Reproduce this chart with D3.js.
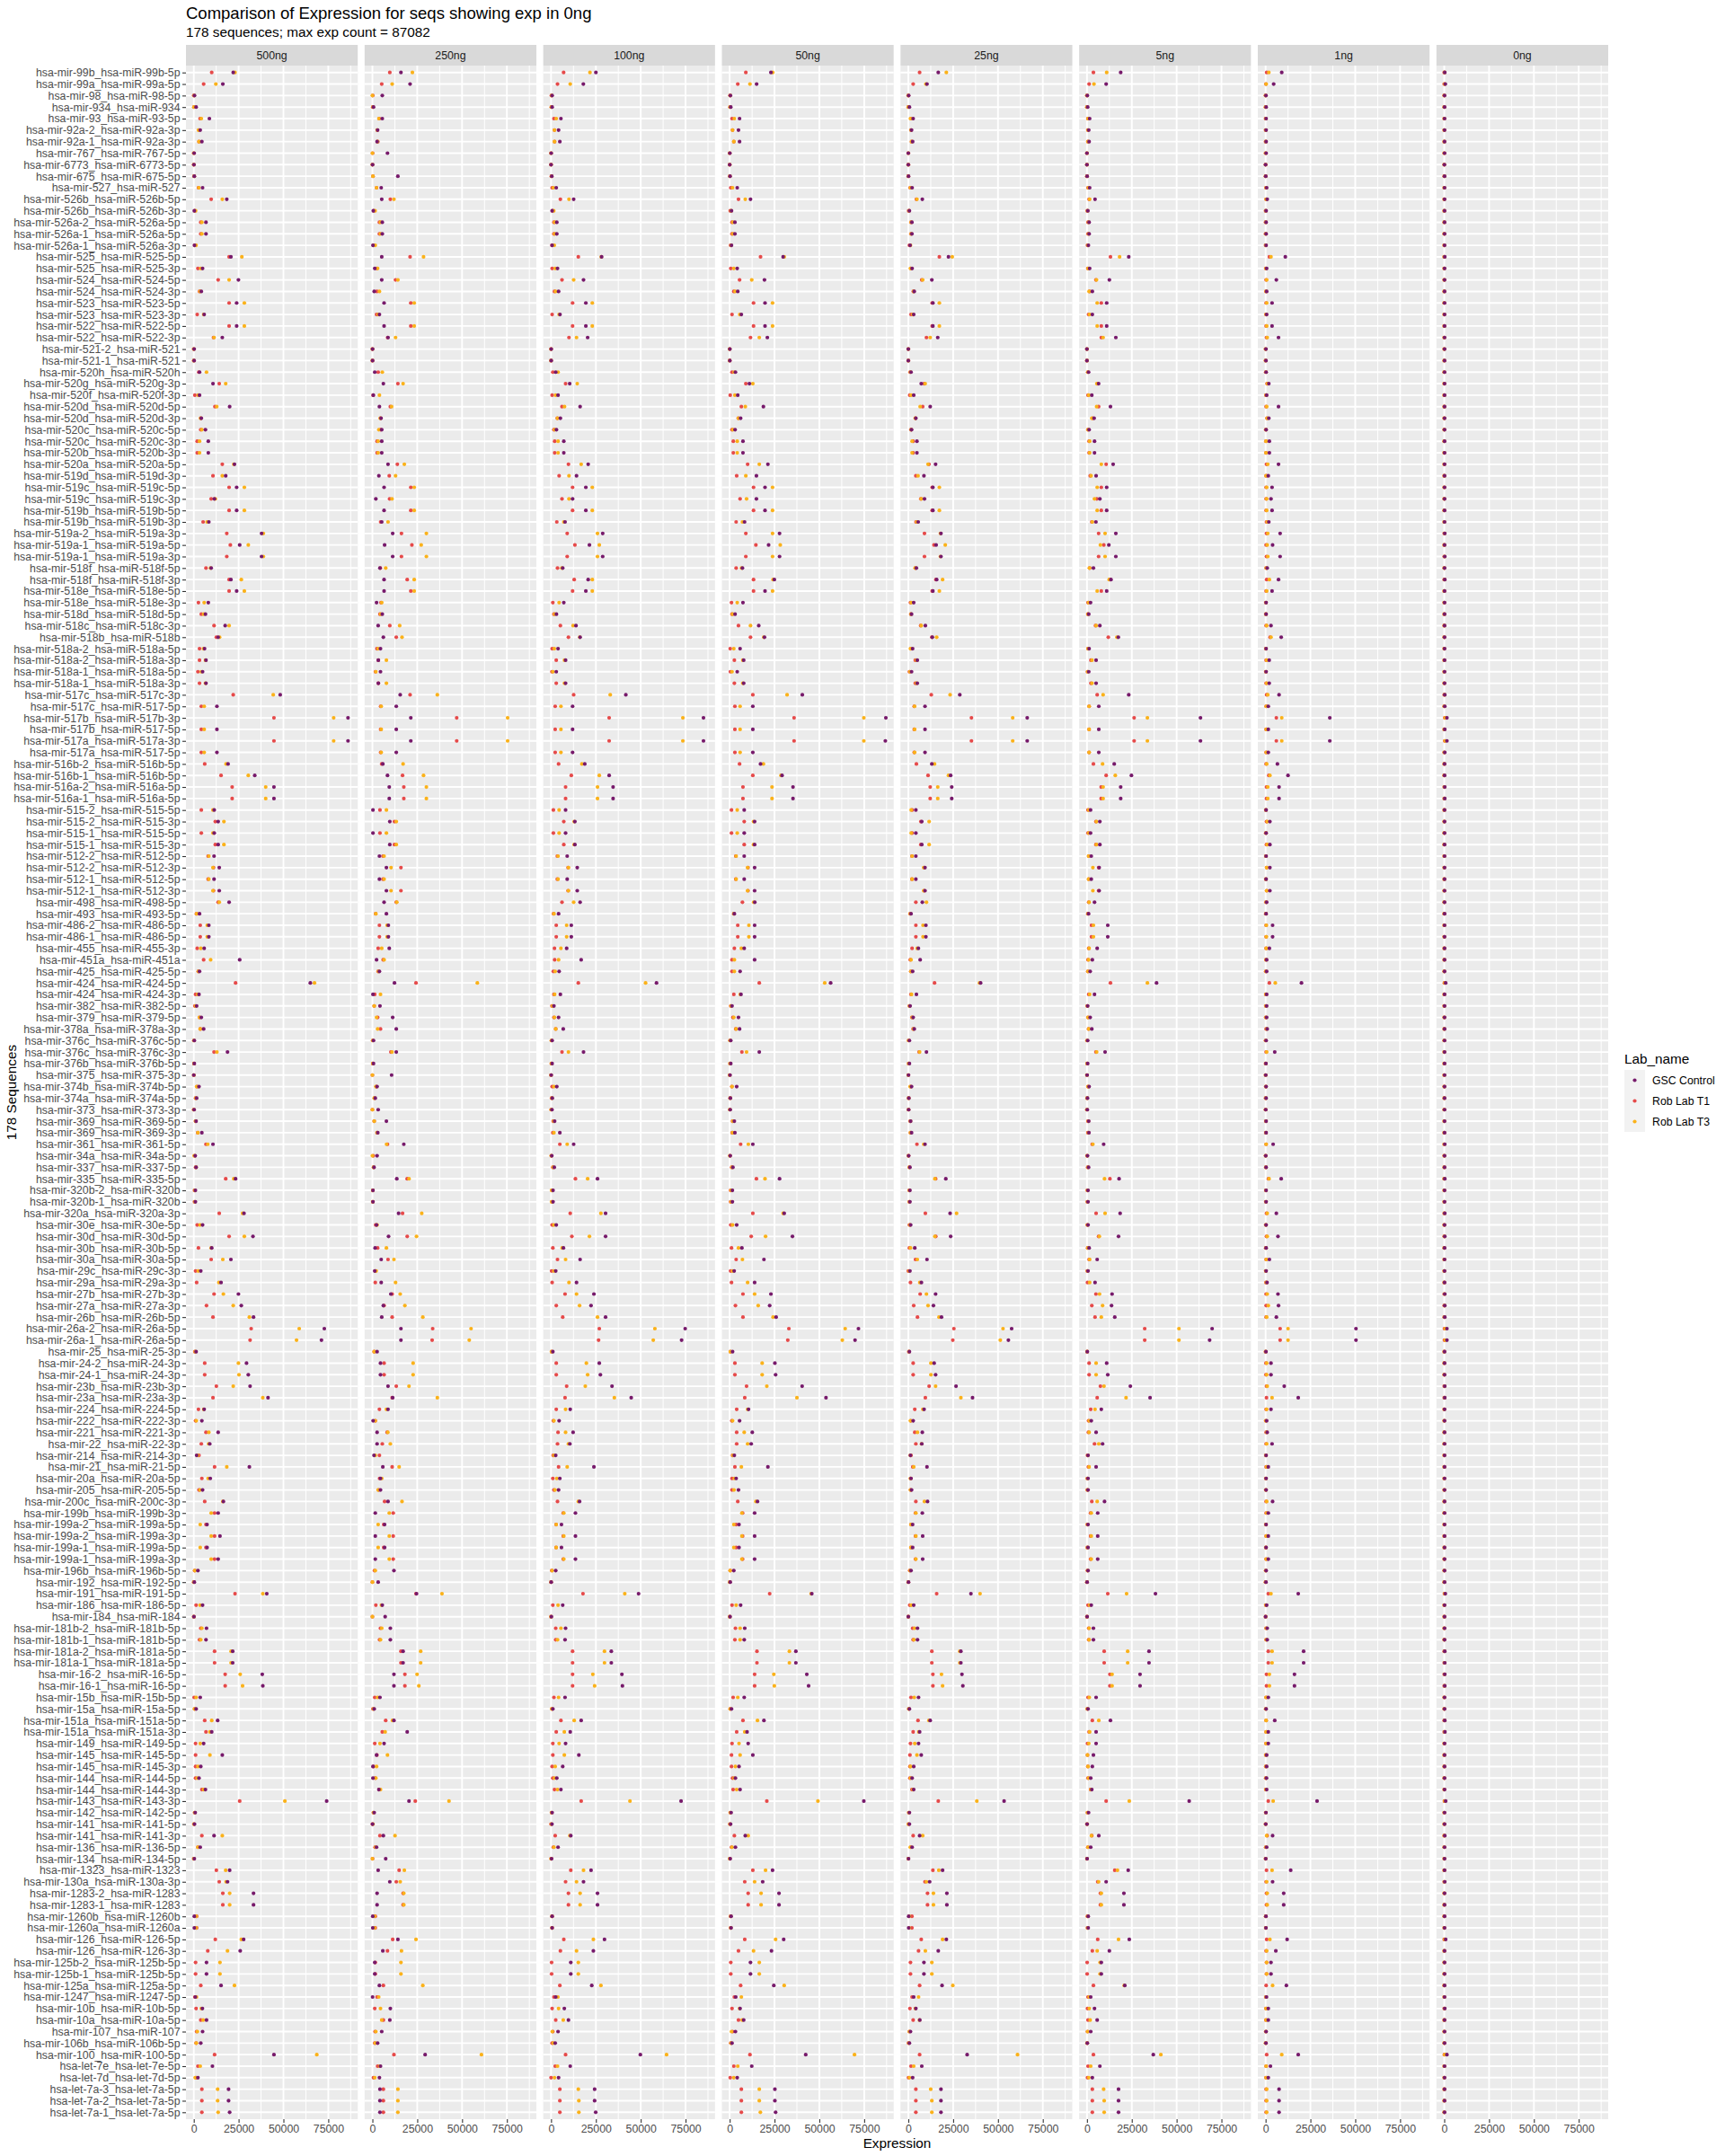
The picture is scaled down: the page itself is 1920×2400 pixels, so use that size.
<!DOCTYPE html>
<html><head><meta charset="utf-8">
<script src="https://cdn.jsdelivr.net/npm/d3@7"></script>
<style>body{margin:0;background:#fff} svg{display:block} text{font-family:"Liberation Sans",Arial,sans-serif}</style>
</head><body><svg id="chart" width="1920" height="2400"></svg>
<script>
const sequences = [
"hsa-mir-99b_hsa-miR-99b-5p","hsa-mir-99a_hsa-miR-99a-5p","hsa-mir-98_hsa-miR-98-5p","hsa-mir-934_hsa-miR-934","hsa-mir-93_hsa-miR-93-5p",
"hsa-mir-92a-2_hsa-miR-92a-3p","hsa-mir-92a-1_hsa-miR-92a-3p","hsa-mir-767_hsa-miR-767-5p","hsa-mir-6773_hsa-miR-6773-5p","hsa-mir-675_hsa-miR-675-5p",
"hsa-mir-527_hsa-miR-527","hsa-mir-526b_hsa-miR-526b-5p","hsa-mir-526b_hsa-miR-526b-3p","hsa-mir-526a-2_hsa-miR-526a-5p","hsa-mir-526a-1_hsa-miR-526a-5p",
"hsa-mir-526a-1_hsa-miR-526a-3p","hsa-mir-525_hsa-miR-525-5p","hsa-mir-525_hsa-miR-525-3p","hsa-mir-524_hsa-miR-524-5p","hsa-mir-524_hsa-miR-524-3p",
"hsa-mir-523_hsa-miR-523-5p","hsa-mir-523_hsa-miR-523-3p","hsa-mir-522_hsa-miR-522-5p","hsa-mir-522_hsa-miR-522-3p","hsa-mir-521-2_hsa-miR-521",
"hsa-mir-521-1_hsa-miR-521","hsa-mir-520h_hsa-miR-520h","hsa-mir-520g_hsa-miR-520g-3p","hsa-mir-520f_hsa-miR-520f-3p","hsa-mir-520d_hsa-miR-520d-5p",
"hsa-mir-520d_hsa-miR-520d-3p","hsa-mir-520c_hsa-miR-520c-5p","hsa-mir-520c_hsa-miR-520c-3p","hsa-mir-520b_hsa-miR-520b-3p","hsa-mir-520a_hsa-miR-520a-5p",
"hsa-mir-519d_hsa-miR-519d-3p","hsa-mir-519c_hsa-miR-519c-5p","hsa-mir-519c_hsa-miR-519c-3p","hsa-mir-519b_hsa-miR-519b-5p","hsa-mir-519b_hsa-miR-519b-3p",
"hsa-mir-519a-2_hsa-miR-519a-3p","hsa-mir-519a-1_hsa-miR-519a-5p","hsa-mir-519a-1_hsa-miR-519a-3p","hsa-mir-518f_hsa-miR-518f-5p","hsa-mir-518f_hsa-miR-518f-3p",
"hsa-mir-518e_hsa-miR-518e-5p","hsa-mir-518e_hsa-miR-518e-3p","hsa-mir-518d_hsa-miR-518d-5p","hsa-mir-518c_hsa-miR-518c-3p","hsa-mir-518b_hsa-miR-518b",
"hsa-mir-518a-2_hsa-miR-518a-5p","hsa-mir-518a-2_hsa-miR-518a-3p","hsa-mir-518a-1_hsa-miR-518a-5p","hsa-mir-518a-1_hsa-miR-518a-3p","hsa-mir-517c_hsa-miR-517c-3p",
"hsa-mir-517c_hsa-miR-517-5p","hsa-mir-517b_hsa-miR-517b-3p","hsa-mir-517b_hsa-miR-517-5p","hsa-mir-517a_hsa-miR-517a-3p","hsa-mir-517a_hsa-miR-517-5p",
"hsa-mir-516b-2_hsa-miR-516b-5p","hsa-mir-516b-1_hsa-miR-516b-5p","hsa-mir-516a-2_hsa-miR-516a-5p","hsa-mir-516a-1_hsa-miR-516a-5p","hsa-mir-515-2_hsa-miR-515-5p",
"hsa-mir-515-2_hsa-miR-515-3p","hsa-mir-515-1_hsa-miR-515-5p","hsa-mir-515-1_hsa-miR-515-3p","hsa-mir-512-2_hsa-miR-512-5p","hsa-mir-512-2_hsa-miR-512-3p",
"hsa-mir-512-1_hsa-miR-512-5p","hsa-mir-512-1_hsa-miR-512-3p","hsa-mir-498_hsa-miR-498-5p","hsa-mir-493_hsa-miR-493-5p","hsa-mir-486-2_hsa-miR-486-5p",
"hsa-mir-486-1_hsa-miR-486-5p","hsa-mir-455_hsa-miR-455-3p","hsa-mir-451a_hsa-miR-451a","hsa-mir-425_hsa-miR-425-5p","hsa-mir-424_hsa-miR-424-5p",
"hsa-mir-424_hsa-miR-424-3p","hsa-mir-382_hsa-miR-382-5p","hsa-mir-379_hsa-miR-379-5p","hsa-mir-378a_hsa-miR-378a-3p","hsa-mir-376c_hsa-miR-376c-5p",
"hsa-mir-376c_hsa-miR-376c-3p","hsa-mir-376b_hsa-miR-376b-5p","hsa-mir-375_hsa-miR-375-3p","hsa-mir-374b_hsa-miR-374b-5p","hsa-mir-374a_hsa-miR-374a-5p",
"hsa-mir-373_hsa-miR-373-3p","hsa-mir-369_hsa-miR-369-5p","hsa-mir-369_hsa-miR-369-3p","hsa-mir-361_hsa-miR-361-5p","hsa-mir-34a_hsa-miR-34a-5p",
"hsa-mir-337_hsa-miR-337-5p","hsa-mir-335_hsa-miR-335-5p","hsa-mir-320b-2_hsa-miR-320b","hsa-mir-320b-1_hsa-miR-320b","hsa-mir-320a_hsa-miR-320a-3p",
"hsa-mir-30e_hsa-miR-30e-5p","hsa-mir-30d_hsa-miR-30d-5p","hsa-mir-30b_hsa-miR-30b-5p","hsa-mir-30a_hsa-miR-30a-5p","hsa-mir-29c_hsa-miR-29c-3p",
"hsa-mir-29a_hsa-miR-29a-3p","hsa-mir-27b_hsa-miR-27b-3p","hsa-mir-27a_hsa-miR-27a-3p","hsa-mir-26b_hsa-miR-26b-5p","hsa-mir-26a-2_hsa-miR-26a-5p",
"hsa-mir-26a-1_hsa-miR-26a-5p","hsa-mir-25_hsa-miR-25-3p","hsa-mir-24-2_hsa-miR-24-3p","hsa-mir-24-1_hsa-miR-24-3p","hsa-mir-23b_hsa-miR-23b-3p",
"hsa-mir-23a_hsa-miR-23a-3p","hsa-mir-224_hsa-miR-224-5p","hsa-mir-222_hsa-miR-222-3p","hsa-mir-221_hsa-miR-221-3p","hsa-mir-22_hsa-miR-22-3p",
"hsa-mir-214_hsa-miR-214-3p","hsa-mir-21_hsa-miR-21-5p","hsa-mir-20a_hsa-miR-20a-5p","hsa-mir-205_hsa-miR-205-5p","hsa-mir-200c_hsa-miR-200c-3p",
"hsa-mir-199b_hsa-miR-199b-3p","hsa-mir-199a-2_hsa-miR-199a-5p","hsa-mir-199a-2_hsa-miR-199a-3p","hsa-mir-199a-1_hsa-miR-199a-5p","hsa-mir-199a-1_hsa-miR-199a-3p",
"hsa-mir-196b_hsa-miR-196b-5p","hsa-mir-192_hsa-miR-192-5p","hsa-mir-191_hsa-miR-191-5p","hsa-mir-186_hsa-miR-186-5p","hsa-mir-184_hsa-miR-184",
"hsa-mir-181b-2_hsa-miR-181b-5p","hsa-mir-181b-1_hsa-miR-181b-5p","hsa-mir-181a-2_hsa-miR-181a-5p","hsa-mir-181a-1_hsa-miR-181a-5p","hsa-mir-16-2_hsa-miR-16-5p",
"hsa-mir-16-1_hsa-miR-16-5p","hsa-mir-15b_hsa-miR-15b-5p","hsa-mir-15a_hsa-miR-15a-5p","hsa-mir-151a_hsa-miR-151a-5p","hsa-mir-151a_hsa-miR-151a-3p",
"hsa-mir-149_hsa-miR-149-5p","hsa-mir-145_hsa-miR-145-5p","hsa-mir-145_hsa-miR-145-3p","hsa-mir-144_hsa-miR-144-5p","hsa-mir-144_hsa-miR-144-3p",
"hsa-mir-143_hsa-miR-143-3p","hsa-mir-142_hsa-miR-142-5p","hsa-mir-141_hsa-miR-141-5p","hsa-mir-141_hsa-miR-141-3p","hsa-mir-136_hsa-miR-136-5p",
"hsa-mir-134_hsa-miR-134-5p","hsa-mir-1323_hsa-miR-1323","hsa-mir-130a_hsa-miR-130a-3p","hsa-mir-1283-2_hsa-miR-1283","hsa-mir-1283-1_hsa-miR-1283",
"hsa-mir-1260b_hsa-miR-1260b","hsa-mir-1260a_hsa-miR-1260a","hsa-mir-126_hsa-miR-126-5p","hsa-mir-126_hsa-miR-126-3p","hsa-mir-125b-2_hsa-miR-125b-5p",
"hsa-mir-125b-1_hsa-miR-125b-5p","hsa-mir-125a_hsa-miR-125a-5p","hsa-mir-1247_hsa-miR-1247-5p","hsa-mir-10b_hsa-miR-10b-5p","hsa-mir-10a_hsa-miR-10a-5p",
"hsa-mir-107_hsa-miR-107","hsa-mir-106b_hsa-miR-106b-5p","hsa-mir-100_hsa-miR-100-5p","hsa-let-7e_hsa-let-7e-5p","hsa-let-7d_hsa-let-7d-5p",
"hsa-let-7a-3_hsa-let-7a-5p","hsa-let-7a-2_hsa-let-7a-5p","hsa-let-7a-1_hsa-let-7a-5p"
];
const panels = ["500ng","250ng","100ng","50ng","25ng","5ng","1ng","0ng"];
const labs = ["GSC Control","Rob Lab T1","Rob Lab T3"];
const xTicks = [0,25000,50000,75000];
const xMinorTicks = [12500,37500,62500,87500];
const maxExp = 87082;
const UNIT = 1000; // values below are in thousands of counts

// ---------- 500ng ----------
const gsc_500ng = [22,16.2,0.4,1.3,8.7,3.6,4.5,0.2,0.1,0.3,
4.9,18.4,0.3,6.8,6.8,0.4,20.7,4.9,24.9,4.2,
23.9,5.8,23.9,15.9,0.2,0.2,3.2,10.7,3.2,20,
4.2,6.5,8.1,8.1,22.7,17.8,23.9,11.5,23.9,8.4,
37.8,25.6,37.8,9.7,20.7,23.9,8.1,6.5,17.5,13.6,
6,6.8,4.9,6.8,48.2,12.9,86,12.9,86,12.9,
19.1,34,44.7,44.7,11.4,13.6,11.4,13.6,11.3,14.2,
11.3,14.2,19.7,3.2,8.4,8.4,5.8,25.6,3.2,65,
2.9,1.6,4.2,5.5,0.3,18.8,0.3,0,2.9,1.6,
0.2,1.3,4.5,10.7,0.8,1.3,23.3,0.9,0.9,28,
4.9,33,10,20.7,3.9,15.2,24.9,26.5,33.3,72.8,
71.2,1.3,29.4,30.4,31.4,41.4,5.8,4.5,13.6,8.9,
1.6,31,9.2,4.9,16.5,13.6,7.4,14.6,7.4,13.6,
2.3,0.3,40.7,4.9,0.1,7.1,6.8,21.7,21.7,38.2,
38.5,3.6,1.3,13.3,10,5.5,15.9,3.9,2.9,6.5,
74.1,0.8,0.4,11.3,3.6,0.3,20,18.8,33.3,33.3,
0.3,0.3,27.8,25.9,7.1,7.1,15.2,0.9,4.8,7.1,
4.9,3.9,44.7,10.4,2.3,19.4,19.4,20];
const t1_500ng = [10,5.5,0,0.1,3.5,2.9,2.9,0,0,0.2,
2.6,9.7,0.6,3.9,3.9,0.5,19.7,2.3,13.6,3.2,
19.7,1.9,19.7,11,0,0,2.8,14.2,0.6,11.8,
3.9,3.9,1.9,1.9,15.9,10.7,19.7,9.7,19.7,5.2,
18.4,20.4,18.4,6.8,19.7,19.7,2.6,4.2,11.3,12.6,
3.2,3.2,2.3,3.2,22,4.2,44.7,4.2,44.7,4.2,
6.1,15.2,21.4,21.4,4.2,12,4.2,12,8,11,
8,11,13.6,1.5,3.6,3.6,1.9,5.5,2.5,23.3,
1,0.6,3.2,3.6,0.1,11.3,0.1,0,1.9,1,
0,1,2.2,6.8,0.6,1,17.8,0.4,0.4,14.2,
1.9,19.7,2.6,9.7,1,1.6,11.3,7.1,10.7,32,
31.4,0.6,6.1,6.1,12.6,10.7,2.6,1,6.8,4.2,
2.9,11.6,4.5,2.9,6.1,11.6,6.8,11.6,6.8,11.6,
0.5,0,23,1.3,0,3.9,3.2,11.6,11.6,17.5,
17.5,0.2,0.5,6.1,6.8,1,1,1,1,4.5,
25.6,0.5,0.1,4.5,2.3,0,12.6,14.2,16.2,16.2,
1.6,1.6,12,7.8,1,1,3.9,0.6,1.3,3.9,
1.6,1.3,11.6,2.3,1.3,4.5,4.5,4.5];
const t3_500ng = [23,12.3,0.2,0.1,4.2,2.6,2.9,0,0,0.2,
2.8,15.9,1,4.5,4.5,1.3,26.8,3.9,19.7,3.5,
28.2,5.5,28.2,11.3,0,0,7.1,17.8,2.5,12.8,
3.8,4.5,3.2,3.2,22.3,15.9,28.2,12,28.2,7.4,
38.8,30.4,38.8,9.3,26.5,28.2,5.8,5.5,19.7,14.4,
5.4,6.5,4.2,6.5,44.3,5.8,78,5.8,78,5.8,
18,30.4,40.1,40.1,10.7,16.8,10.7,16.8,8.4,10.7,
8.4,10.7,14.2,1.6,7.5,7.5,3.9,9.4,2.6,67.3,
2.2,1,3.2,3.6,0.1,12.9,0.1,0,1.6,1.2,
0,1,2.3,7.8,0.2,1.3,22.3,0.6,0.6,27.2,
3.5,28.2,9.7,16.2,2.5,14,16.5,22,31,58.8,
57.3,0.8,24.9,25.2,22,38.5,5.5,1.4,8.4,8.3,
2.2,18.4,8,3.5,16.2,9.7,3.6,9.7,3.6,9.7,
0.6,0,38.5,3.5,0,4.5,3.9,20.8,20.8,25.9,
27.2,1.3,0.4,10,9,3.6,9,2.3,1.9,5.5,
50.8,0.5,0.1,15.9,2.3,0,17.8,18,20,20,
1.3,1.3,26.5,18.8,14.6,14.6,22.7,1.5,4.2,5.2,
2,1.4,68.6,3.6,0.8,13.3,13.3,13.6];

// ---------- 250ng ----------
const gsc_250ng = [15.9,21,5.5,0.6,5.5,2.9,2.6,8.4,0.1,14.2,
4.9,5.2,0.5,5.5,5.5,0.3,5.2,1.3,5.2,1,
6.5,3.9,6.5,8.7,0.1,0.1,1.3,6.1,0.5,3.9,
4.8,5.2,5.2,5.2,8.7,3.6,6.5,1.9,6.5,5.2,
11.3,6.8,11.3,4.2,6.5,6.5,2.3,5.5,3.2,6.1,
4.5,3.3,4.5,3.3,15.5,13.3,21.4,13.3,21.4,13.3,
5.8,8.4,9.4,9.4,0.3,9.7,0.3,9.7,3.9,7.8,
3.9,7.8,6.5,7.8,8.9,8.9,9.4,2.3,3.9,12.3,
0.3,4.2,11.3,13.3,0.6,13.3,0.6,10.7,2.6,1.6,
3.2,7.8,3,17.5,2.6,0.9,13.6,0.3,0.3,14.6,
2.3,9,1.5,4.9,1.3,4.9,10.3,6.1,5.2,15.9,
15.9,2.6,4.5,4.5,8.7,11.3,8.7,0.4,2.6,2.6,
0.9,5.8,4.5,4.5,8.7,1.6,6.8,1.6,6.8,1.6,
12,3.2,24.6,5.5,7.1,10,10,17.1,17.1,12,
12,4.2,1,12,19.4,6.5,2.3,0.3,0.3,3.6,
20.4,1,0.1,6.1,2.3,7.4,3.2,9.7,2.6,2.6,
0.2,0.2,14.2,5.8,1.3,1.3,3.9,0.1,10,9.7,
5.2,2.9,29.4,4.5,3.9,4.2,4.2,4.2];
const t1_250ng = [9.7,5.2,0.2,0.2,3.8,2.7,3,0.1,0,0.3,
2.3,10,0.8,3.9,3.9,0.6,21,2.4,12.9,2.5,
21.4,2.3,21.4,8.5,0,0,3.2,14.2,0.4,10,
4.5,4.6,2.6,2.6,13.9,9.4,21.4,9.6,21.4,4.6,
16.2,22,16.2,4.4,19.4,21.4,4.8,4.2,9.7,13.3,
2.5,3.3,1.7,3.3,21,4.6,47,4.6,47,4.6,
5.2,16.8,17.5,17.5,4.2,12.3,4.2,12.3,5.9,15.9,
5.9,15.9,13.3,1.8,3.9,3.9,3.2,6,3.2,24.3,
1.3,1,2.9,4.5,0.2,10.3,0.2,0,2.2,1.2,
0,1,2.6,8.4,0.5,0.7,19.4,0.2,0.2,16.8,
1.8,19.4,2.9,8.7,1.6,1.6,11,6.5,11,33.6,
33.3,1,6.5,6.5,13.3,11,3.9,1.6,8.2,5.5,
3.9,11,4,3.5,6.8,11.6,6.3,11.6,6.3,11.6,
1.2,0,24.3,1.9,0,4.5,4,15.9,15.9,18.1,
18.1,1.3,0.3,7.4,5.5,1.3,2.5,0.6,1.5,3.7,
23.9,0.6,0,4.2,1.5,0.1,14.9,13.3,17.1,17.1,
1.6,1.6,11.3,8.4,1.6,1.6,6.1,2.6,1.3,6.1,
1.5,1.3,12,2.9,0.6,6.1,6.1,6.1];
const t3_250ng = [22.3,11,0,0.3,3.6,2.7,2.8,0,0,0.3,
2.3,12,1.5,4.5,4.5,1.6,28.5,2.9,14.2,3.9,
23.3,3.2,23.3,12.9,0,0,5.5,17.1,3.9,10.7,
4.4,3.6,3.2,3.2,17.8,12.9,23.3,10.9,23.3,8.7,
30.1,27.2,30.1,7.4,23.3,23.3,5.2,4.6,15.2,16.5,
3.2,7.8,1.9,7.8,36.2,4.9,75.4,4.9,75.4,4.9,
17.1,28.5,30.1,30.1,7.8,13.3,7.8,13.3,6.5,10.4,
6.5,10.4,13.6,1.9,8.2,8.2,5.2,6.5,3.4,58.5,
4.5,1,2.3,2.9,0.2,10.9,0.2,0,1.9,1,
0,1,2.6,7.9,0,0.6,20.4,0.2,0.2,27.5,
2.6,24.6,7.8,12,2.1,12.9,15.5,18.1,28.1,55,
54,1,22.7,22.7,20.4,36.2,7.8,1.6,8.6,10,
1.6,14.9,5.2,3.2,16.5,9.4,3.2,9.4,3.2,9.4,
1.6,0,38.8,5,0,5.2,4.5,26.9,26.9,24.9,
25.9,2.9,0.6,11.2,7.1,4.2,8.4,2.3,1.9,4.5,
42.7,0.6,0.3,12.6,1.8,0,17.8,15.5,17.5,17.5,
1.2,1.2,24.3,16.2,15.9,15.9,28.1,3.5,4.5,5.2,
1.9,1.6,60.8,4.1,1.3,14.2,14.2,14.2];

// ---------- 100ng ----------
const gsc_100ng = [25,18,0.6,0.6,5.5,4.2,4.9,0.1,0,0.4,
2.9,12.6,0.6,3.2,3.2,0.6,28.2,3.6,18.1,4.2,
19.4,5,19.4,20.4,0.1,0.1,2.6,10.4,3.9,16.2,
5.2,3,7.1,7.1,20.7,14.2,19.4,12,19.4,7.8,
28.8,21.4,28.8,6.5,20.7,19.4,7.1,3,13.9,16.2,
3.9,8.1,2.9,8.1,41.7,12,85,12,85,12,
18.8,32.4,34.6,34.6,8.1,13.3,8.1,13.3,9,14.6,
9,14.6,16.2,4.2,11.3,11.3,8.7,16.8,4.5,58.8,
5.2,1.6,4.2,6.8,0.6,18.1,0.6,0.1,3.2,0.7,
0.5,2,4.9,12.6,0.4,1.8,25.9,1.1,1.1,30.4,
2.9,30.4,6.9,16.2,2.6,14.2,23.9,22.3,30.4,74.8,
72.8,1,26.9,27.5,34,44.7,10.7,4.5,12.3,10.5,
2.6,23.9,4.9,4.2,15.9,13.6,5.8,13.6,5.8,13.6,
2.6,0.1,48.8,6.5,0.2,8.1,7.8,33.6,33.6,39.5,
39.8,7.8,1,16.8,10.7,8.1,15.5,6.5,3.2,5.5,
72.5,0.6,0.5,11,3.9,0.3,22.3,18.1,25.9,25.9,
0.6,0.6,29.8,23.6,11,11,22.7,2.6,7.4,9.7,
3.9,2.3,49.8,10.7,4.2,24.3,24.3,24.9];
const t1_100ng = [7,3.6,0.2,0.2,1.6,1.9,2,0,0,0.2,
0.6,5.2,0.8,1.6,1.6,0.5,15.2,0.6,6.1,1.9,
12,0.6,12,10,0,0,1,8.1,0.6,6.1,
3.5,1.6,2,2,9.7,4.5,12,6.1,12,3.2,
9,13.3,9,3.6,12.9,12,1,1.6,5.2,9.7,
0.6,2.9,0.5,2.9,12.6,2.3,32.4,2.3,32.4,2.3,
4.2,11.3,8.1,8.1,1.3,7.1,1.3,7.1,3.5,9.5,
3.5,9.5,6.1,1.4,2.9,2.9,1.9,2,1.3,15.2,
1.6,0.5,1.6,2.6,0.3,6.1,0.2,0,0.6,0.3,
0.1,1.2,1,4.9,0.2,1,13.6,0.5,0.5,10.7,
0.6,11.6,1,3.6,0.3,0.6,7.8,2.9,6.5,26.9,
26.5,0.3,2.9,2.9,8.7,7.8,2.9,1.3,3.9,3.6,
1.2,4.2,1,1.6,3.6,6.8,2.8,6.8,2.8,6.8,
0.4,0,17.8,1,0,2.6,2.6,12,12,12,
12,1.6,0.5,5.5,2.9,1,1,0.6,1,1.9,
16.8,0.3,0,2.3,1.3,0.1,11,8.1,9.7,9.7,
0.6,0.6,7.1,5.2,0.3,0.3,4.9,1.6,0.6,2.6,
1,0.6,8.1,2.3,0,4.9,4.9,4.9];
const t3_100ng = [21.7,10.7,0.4,0.2,2.9,1.9,1.9,0,0,0.3,
1.3,10,1.5,2,2,1.8,28,2.3,12.6,2.5,
23,4.5,23,14.2,0,0,3.9,14.6,2.5,7.5,
3.6,2,3.9,3.9,16.8,10,23,10,23,7.1,
25.9,26.9,25.9,6,23,23,4.5,2,12.3,16,
1.8,7.5,1,7.5,33,5.5,73.5,5.5,73.5,5.5,
17.2,26.9,25.9,25.9,4.5,12.9,4.5,12.9,3.9,9.7,
3.9,9.7,12.6,1.6,8.7,8.7,5.5,4.2,2.3,52.7,
2,0.8,1.9,2.6,0.2,9.7,0.2,0,1.6,0.5,
0.1,1.5,1.6,9,0.1,1.2,20.4,0.3,0.3,27.8,
1.6,21.4,6.2,8.1,1.6,10,14.2,15.9,25.9,57.9,
57,0.3,19.7,20.4,19.1,35.3,8.1,1.6,8.1,9.7,
1.6,9,3.2,2.2,15.2,7.1,2.9,7.1,2.9,7.1,
0.6,0,41.1,3.9,0,5.5,3.6,29.8,29.8,23.3,
24.3,4.2,0.4,12.9,7.4,4.5,7.4,2.3,1.9,3.6,
44,0.3,0.2,10.5,1.6,0,18.1,14.2,16.2,16.2,
0.5,0.5,23.6,14.2,15.2,15.2,27.8,3.8,4.2,6.8,
0.7,1.2,64.4,3.6,1.9,15.2,15.5,15.5];

// ---------- 50ng ----------
const gsc_50ng = [23,15,0.4,0.6,5.5,4.9,5.5,0.1,0,0.2,
4.2,11.6,1,2.9,2.9,1,29.8,4.2,19.4,4.5,
19.7,6.5,19.7,21,0.1,0.1,3.2,11,4.5,18.8,
6.1,3,7.4,7.4,21.3,14.9,19.7,14.9,19.7,8.3,
27.8,21.7,27.8,7.1,24.9,19.7,7.4,3,16.2,19.4,
5.8,7.8,4.2,7.8,40.5,12.9,87.082,12.9,86.8,12.9,
17.2,29.2,35.3,35.3,8.1,13.9,8.1,13.9,8.1,13.9,
8.1,13.9,14,2.6,13.9,13.9,8.1,13.9,5.8,56.3,
6.3,1.3,4.9,5.5,0.6,16.5,0.6,0.2,3.9,0.4,
0.3,2.6,2.9,12.9,0.3,1.8,27.8,1.5,1.5,30.4,
3.9,35,6.8,19.1,2.5,13.9,23,22.3,25.9,71.8,
69.9,1.6,25.2,25.6,40.4,53.7,10.5,5.5,12.6,12,
2.6,21.3,3.6,4.9,15.5,13.9,5.2,13.9,5.2,13.9,
2.3,0.3,45.8,6.1,0.2,8.4,8.1,36.9,36.9,43,
44,8.1,1,19.1,9.7,10.3,12.9,5.2,3.2,5.8,
74.8,0.8,0.5,8.7,3.2,0.3,23.9,18.4,27.5,27.5,
0.8,0.8,30.1,23.3,11.6,11.6,24.6,3.4,5.8,7.8,
3.2,1.3,42.4,12.3,4.2,25.2,25.2,25.6];
const t1_50ng = [9,4.5,0.2,0.2,1.3,1.6,2.3,0,0,0.1,
0.6,4.9,0.3,1.3,1.3,0.5,17.2,0.6,5.5,2.3,
13.3,1.3,13.3,11.6,0,0,1.3,9,0.3,6.5,
4.8,1.3,2,2,10,3.9,13.3,5.8,13.3,3.6,
9,14.6,9,3.6,13.3,13.3,1,1.3,4.9,11.6,
0.3,2.6,0.4,2.6,12.9,2.9,35.9,2.9,35.9,2.9,
5.5,12.9,7.4,7.4,1,8.1,1,8.1,3.4,10.2,
3.4,10.2,7.1,2.3,4.5,4.5,2.6,1.3,1.3,16.5,
2.3,0.6,1.8,3.4,0.2,6.8,0.2,0,1.2,0.2,
0.1,1.6,1.4,6.1,0.2,1.1,14.9,0.5,0.5,12.9,
0.6,12,1,3.6,0.5,1,7.4,3.2,7.4,33,
32.4,0.4,2.9,2.9,9.4,8.4,3.9,1.2,3.9,3.9,
1.6,2.9,1.3,1.3,4.5,7.2,3.6,7.2,3.6,7.2,
0.3,0.1,22.3,1.3,0.1,3.2,2.9,15.2,15.2,13.9,
13.9,1.9,0.3,7.4,3.9,1.3,1,1,1.6,1.9,
20.7,0.3,0.1,2.6,1,0.1,12.9,8.4,10.3,10.3,
0.5,0.5,8.4,4.9,0.6,0.6,6.1,2.6,1.3,4.9,
1.6,0.6,11.3,2.3,0.3,6.5,6.5,6.5];
const t3_50ng = [24,11.3,0.3,0.2,2.6,1.6,2.3,0,0,0.1,
1.6,8.7,0.8,1.8,1.8,0.8,30.4,2.3,12.3,3,
23.9,5.6,23.9,16.5,0,0,2.5,12.9,2.9,8.7,
4.9,1.8,4.2,4.2,16.5,9,23.9,9.4,23.9,7.1,
23.9,28.2,23.9,6.6,24.2,23.9,4.2,1.6,11.6,19,
2.3,7.3,1.3,7.3,32,5.8,74.8,5.8,74.8,5.8,
18.8,28.6,23.6,23.6,4.2,13.3,4.2,13.3,3.6,10,
3.6,10,13.4,2.3,10.7,10.7,6.5,2.6,2.6,53,
5.9,0.8,2.3,3.6,0.2,9.4,0.2,0,1.3,0.3,
0.1,1.7,1.6,10.4,0.1,1.3,19.7,0.8,0.8,29.8,
1.6,20,4.9,7.1,1.6,10,13.9,15.9,24.2,64.4,
62.8,0.4,18.1,18.1,20.7,37.5,10,1.6,8.1,10,
1.8,6.5,2.6,2.4,14.6,6.8,2.3,6.8,2.3,6.8,
0.3,0,45.4,3.6,0,5.8,5.8,33.3,33.3,24.6,
24.9,4.5,0.3,15.5,8.4,5.2,5.8,3.2,2.5,3.9,
49.2,0.4,0.2,10.3,1.3,0,20,13.9,17.5,17.5,
0.6,0.6,25.6,13.3,16.5,16.5,30.4,6.5,5.5,7,
1,0.8,69.6,4.5,2.3,16.5,16.5,17.1];

// ---------- 25ng ----------
const gsc_25ng = [16.7,10.4,0.2,0.6,2.7,1.8,2.4,0,0,0.1,
2.1,7.8,0.6,2,2,1,22.4,2.1,13.1,3.3,
13.7,3,13.7,16.4,0,0,1.5,7.2,3,12.2,
4.2,1.8,4.8,4.8,15.2,8.7,13.7,9,13.7,5.5,
18.2,15.5,18.2,4.5,15.8,13.7,3,1.8,9.5,13.4,
2.4,5,1.8,5,28.7,9.3,66.3,9.3,66.3,9.3,
13.1,23.6,24.2,24.2,4.2,7.5,4.2,7.5,4.2,9.3,
4.2,9.3,7.8,1.5,9.8,9.8,5.6,6.6,2.4,40.3,
4.5,1,2.7,3.3,0.6,10.1,0.6,0.1,1.8,0.3,
0.2,1.3,1.8,9.3,0.2,0.9,20.9,0.9,0.9,23.3,
1.3,23.6,3.6,10.4,0.9,7.3,15.2,14,18.5,57.6,
55.8,0.6,14.4,15.2,26.6,35.8,8.8,2.7,7.8,7.5,
1.2,10.4,1.5,1.8,10.7,7.8,2.4,8,2.4,8,
1.5,0.1,34.9,3,0,5.1,5.1,29.3,29.3,29.9,
30.4,5.7,0.6,12.2,6.3,5.7,7.2,3,2.1,3,
53.4,0.6,0.6,6.3,2.1,0.1,19.1,11.9,21.5,21.5,
0.2,0.2,21.2,16.7,8.7,8.7,18.8,3,4.2,6.4,
1.2,0.6,32.8,7.5,2.4,18.2,18.2,18.2];
const t1_25ng = [6.3,2.7,0,0,1.5,1.5,1.8,0,0,0,
1,4.5,0.2,1.5,1.5,0.6,17.3,1.4,7.5,2.8,
13.3,1.5,13.3,10.1,0,0,1,8.8,0.8,8,
4,1.5,2.7,2.7,11.5,4.2,13.3,7,13.3,4.3,
9,14.3,9,4,15.4,13.3,1.2,1.4,6.9,13.1,
1.5,3.9,0.6,3.9,12.8,3.3,35.2,3.3,35.2,3.3,
4.5,11,12.2,12.2,2.1,7,2.1,7,2,8.8,
2,8.8,4.2,1,4.2,4.2,2.1,1.1,1.4,14.6,
1.5,0.6,2,2.7,0.2,6,0.2,0,1.3,0.2,
0.1,1,1.2,4.8,0.1,0.6,15.2,0.5,0.5,9.5,
0.6,15.3,0.6,4,0,1.2,6.6,3,5.1,25.4,
24.8,0.3,2.7,2.7,11.6,9.5,3.6,1.4,3.6,4.2,
1.5,2.5,1.3,1.3,4.2,4,1.5,4,1.5,4,
0.8,0,15.8,0.8,0,2.4,2.7,13.1,13.1,13.7,
13.7,1.5,0.3,5.4,2.7,1.2,0.9,0.9,0.9,2,
16.7,0.3,0.1,2.7,1.4,0,13.7,9.3,10.7,10.7,
2,2,7.2,5.7,1.2,1.2,6.3,2.1,0.9,2.7,
0.6,0.1,6.3,1.5,0.1,4.2,4.2,4.2];
const t3_25ng = [21.2,9.8,0,0,1.2,1.5,1.8,0,0,0,
1.2,4.8,0.4,1.6,1.6,1.2,24.5,1.2,8,3,
17.3,2.5,17.3,12.2,0,0,1.2,9.4,1.5,6.6,
3.9,1.6,2.1,2.1,11,5.4,17.3,7.2,17.3,4.7,
17.9,20.6,17.9,3.8,19.1,17.3,1.6,1.5,7.2,15.8,
1.2,4.5,0.9,4.5,23.3,3.5,58.2,3.5,58.2,3.5,
14.6,22.4,16.4,16.4,1.6,11.6,1.6,11.6,2.1,8.6,
2.1,8.6,10.1,1.1,8.2,8.2,4.9,1.5,1.5,39.7,
1.8,0.7,2.2,2.9,0.2,6.3,0.2,0,1,0.2,
0.1,1.2,1.2,8.6,0.1,0.6,14.8,0.6,0.6,26.9,
0.9,14.8,1.2,5,0.5,6.4,10.1,11,17.1,52.8,
51.3,0.4,12.6,12.6,15.2,29.3,8.1,1.2,5.1,7.4,
1.1,3,1.2,1.2,9,4.2,1.5,4.2,1.5,4.2,
1,0,40,1.6,0,3.5,3.1,28.7,28.7,18.5,
19.1,3.3,0.3,11.5,5.8,3.6,4.8,1.2,1.3,2.6,
38.2,0.3,0.1,8,1.1,0,17,10.1,14,14,
0.5,0.5,19.1,9.5,13.1,13.1,24.8,5.7,3.9,6.2,
0.6,0.3,60.9,3,0.6,12.5,13.1,13.1];

// ---------- 5ng ----------
const gsc_5ng = [18.8,10.7,0.2,0.4,1.5,1,1.2,0,0,0.1,
1.5,4.5,0.5,1.2,1.2,0.8,23.3,1.5,12.5,3,
11,3,11,16.1,0,0,0.9,6.5,2.7,13.1,
4,1.2,4.2,4.2,14.6,5.1,11,7.2,11,5,
16.1,12.2,16.1,3.6,13.4,11,2,1,7.2,17.5,
1.2,5.1,1,5.1,23.3,6.6,63.3,6.6,63.3,6.6,
15.2,24.8,18.8,18.8,2,7.2,2,7.2,2.4,6.8,
2.4,6.8,4.2,0.9,11.6,11.6,5.7,3,1.8,38.8,
4.2,0.4,1.8,2.7,0.4,10.1,0.4,0.1,1.2,0.3,
0.2,1,1.1,9.3,0.3,0.9,17.9,0.6,0.6,18.5,
0.6,17.6,1.2,5.7,0.6,4.5,14,13.7,15.5,69.8,
68.4,0.2,11,11.6,24.2,35.2,8,2.4,5.1,8.7,
0.6,5.1,0.6,0.6,9.8,6,0.6,6,0.6,6,
0.6,0.1,38.2,2.4,0.1,3.6,3.6,34.6,34.6,29.6,
29.6,5.1,0.6,13.1,5.1,5.1,3.6,3,2.1,2.7,
57,0.9,0.1,6.6,2.1,0.1,23,10.7,20.6,20.6,
0.7,0.7,23.6,12.5,8,8,21.1,2.1,4.2,5.7,
2.1,0.2,37,7.2,3,17.6,17.6,17.6];
const t1_5ng = [3.6,1.2,0,0,0.5,0.5,0.5,0,0,0,
0.6,1.2,0.2,0.6,0.6,0.3,13.1,0.5,5,1.5,
8,0.9,8,8,0,0,0.5,6,0.6,6.5,
3.2,0.6,1.2,1.2,10.7,1.8,8,5.5,8,2.7,
6.5,9.4,6.5,1.5,12.8,8,0.6,0.5,4.8,11.9,
0.6,2.2,0.3,2.2,5.7,1.2,26.3,1.2,26.3,1.2,
3.6,10.7,7.9,7.9,0.6,5,0.6,5,1,6.5,
1,6.5,1,0.5,2.5,2.5,1,0.6,0.5,13.1,
1,0.2,0.6,0.9,0.1,5,0.1,0,0.6,0.1,
0,0.5,0.5,2.9,0.1,0.4,12.8,0.2,0.2,5.1,
0.2,6.5,0.4,1.2,0.2,0.3,5,2.7,4.5,32.2,
32.2,0.1,1.2,1.2,7.5,5.7,2.1,0.9,0.8,4.2,
0.3,0.8,0.2,0.2,2.7,2,0.2,2,0.2,2,
0.3,0,11.6,0.6,0,1,1,9.6,9.6,12.8,
12.8,0.6,0.2,3,1.2,0.3,0.3,0.5,0.6,2,
10.7,0.3,0,2.7,0.5,0,15.5,6,7.5,7.5,
0.3,0.3,6,3,0.1,0.1,3.6,0.6,0.3,0.6,
0.3,0.1,3.6,0.6,0.3,3,3,3];
const t3_5ng = [11,3.9,0,0,0.6,0.6,0.6,0,0,0,
0.8,1.5,0.3,0.9,0.9,0.5,18.2,0.6,5.3,1.2,
5.7,1.4,5.7,9,0,0,0.5,5.5,1,5.4,
2.7,0.6,1.5,1.5,8,2.3,5.7,4.2,5.7,3,
10.1,7.5,10.1,1.4,12.4,5.7,0.9,0.6,5.1,16.7,
0.6,2.8,0.4,2.8,9,1.2,33.7,1.2,33.7,1.2,
8.7,15.8,9,9,1,5.3,1,5.3,0.9,3.3,
0.9,3.3,1.2,0.6,3.6,3.6,1.2,0.9,0.6,33.7,
1.5,0.2,0.6,1,0.1,5.4,0.1,0,0.6,0.1,
0,0.8,0.8,3.3,0.1,0.6,9.8,0.3,0.3,10.1,
0.3,6.9,0.5,1.5,0.3,1.5,7,8.7,8,51.3,
51.3,0.1,5.1,5.1,9.5,21.8,4.5,1.3,1.2,6.6,
0.5,1.2,0.3,0.3,5.7,2.4,0.3,2.4,0.3,2.4,
0.4,0,22.1,1.5,0,1.2,1.2,22.7,22.7,14,
14,1.3,0.2,6.6,1.5,1,0.3,0.6,0.9,2.2,
23.6,0.3,0.1,2.5,0.6,0,17,6.5,8,8,
0.4,0.4,17.6,5.7,7.3,7.3,20.8,1.2,1.3,1.8,
0.4,0.1,41.2,2.1,1,9.3,9.6,9.6];

// ---------- 1ng ----------
const gsc_1ng = [9,4.5,0.2,0.3,0.3,0.3,0.3,0.3,0,0.1,
0.6,0.9,0.3,0.3,0.3,0.3,11,0.6,6,0.6,
3.6,0.6,3.6,7.2,0.2,0.2,0.3,1.8,0.6,7.2,
1.8,0.3,2.1,2.1,7.2,1.5,3.6,3,3.6,1.8,
8.1,3.9,8.1,0.9,7.2,3.6,0.3,0.3,3,8.7,
0.3,2,0.3,2,7.5,1.5,35.8,1.5,35.8,1.5,
6.6,12.5,7.5,7.5,0.3,2.4,0.3,2.4,0.3,2.4,
0.3,2.4,0.6,0.3,3.9,3.9,2.1,0.6,0.6,20,
0.6,0.6,0.6,0.9,0.3,5.1,0.2,0.1,0.3,0.3,
0.1,0.3,0.3,4.2,0.1,0.3,8.7,0.3,0.3,6,
0.3,6.9,0.3,2.1,0.3,0.8,6.9,7.2,6,50.4,
50.4,0.2,3,3,10.4,18.2,3,0.6,0.9,3.6,
0.3,1.5,0.3,0.3,3.9,1.5,0.3,1.5,0.3,1.5,
0.3,0.2,18.2,0.6,0,0.9,0.9,21.2,21.2,16.1,
16.1,1.5,0.3,5.1,1.5,1.5,0.6,0.6,0.5,0.6,
28.7,0.2,0.1,3.9,0.6,0.1,14,3.9,10.1,10.1,
0.2,0.2,12,5.7,3,3,11.6,0.5,1.5,1.5,
0.3,0.2,18.2,2.7,1.5,7.5,7.5,7.5];
const t1_1ng = [0.6,0.2,0,0,0,0,0,0,0,0,
0.2,0.3,0,0,0,0,2.1,0.1,0.3,0.2,
0.3,0.2,0.3,0.5,0,0,0.1,0.8,0.2,0.3,
0.8,0.1,0.2,0.2,0.5,0.3,0.3,0.3,0.3,0.5,
0.5,0.3,0.5,0.3,0.6,0.3,0.1,0.1,0.3,2.5,
0.1,0.3,0.1,0.3,0.6,0.3,6,0.3,6,0.3,
0.3,1.8,0.5,0.5,0.1,0.5,0.1,0.5,0.1,0.6,
0.1,0.6,0.2,0.1,0.3,0.3,0.3,0.2,0.1,2.1,
0.1,0.1,0.1,0.3,0,0.3,0,0,0.1,0,
0,0.1,0.1,0.3,0,0.1,1.6,0.1,0.1,0.5,
0.1,0.5,0.1,0.3,0.1,0.2,0.3,0.3,0.3,8.1,
8.1,0,0.2,0.2,0.5,0.5,0.3,0.1,0.3,0.3,
0.1,0.3,0.1,0.1,0.3,0.3,0.1,0.3,0.1,0.3,
0.1,0,1.5,0.1,0,0.3,0.3,1.5,1.5,0.5,
0.5,0.3,0.1,0.3,0.3,0.2,0.1,0.1,0.1,0.1,
1.5,0.1,0,0.9,0.1,0,0.5,0.3,0.5,0.5,
0.1,0.1,0.6,0.3,0.5,0.5,0.3,0.1,0.2,0.2,
0.1,0.1,0.6,0.3,0.2,0.3,0.3,0.3];
const t3_1ng = [1.8,0.3,0,0,0.1,0.1,0.1,0,0,0,
0.3,0.3,0.1,0.1,0.1,0.1,3,0.2,0.6,0.3,
0.6,0.3,0.6,0.9,0,0,0.2,1,0.3,0.6,
0.9,0.2,0.2,0.2,1.2,0.3,0.6,0.6,0.6,0.9,
1.2,0.9,1.2,0.4,2.1,0.6,0.2,0.2,0.6,3,
0.2,0.6,0.2,0.6,1.2,0.4,9,0.4,9,0.4,
0.6,2.4,1.2,1.2,0.2,0.9,0.2,0.9,0.2,0.6,
0.2,0.6,0.3,0.2,0.4,0.4,0.4,0.3,0.2,5.4,
0.2,0.2,0.2,0.6,0.1,0.6,0.1,0,0.2,0.1,
0,0.2,0.2,0.3,0,0.2,1.9,0.2,0.2,0.9,
0.2,0.9,0.2,0.4,0.1,0.4,0.9,1.5,0.6,12.5,
12.5,0,0.6,0.6,0.9,3.6,0.6,0.2,0.6,0.6,
0.2,0.6,0.2,0.2,0.6,0.6,0.2,0.4,0.2,0.4,
0.1,0,3,0.2,0,0.4,0.4,3.6,3.6,2.1,
2.1,0.3,0.1,0.3,0.3,0.3,0.2,0.2,0.2,0.2,
4.2,0.1,0,0.6,0.2,0,3.6,0.6,0.9,0.9,
0.1,0.1,2.4,0.6,0.6,0.6,3.9,0.2,0.3,0.3,
0.2,0,9,0.3,0.3,0.6,0.6,0.6];

// ---------- 0ng ----------
const gsc_0ng = [0.3,0.6,0.2,0.2,0.2,0.2,0.2,0.2,0.1,0.2,
0.2,0.2,0.2,0.2,0.2,0.2,0.3,0.2,0.2,0.2,
0.2,0.2,0.2,0.2,0.2,0.2,0.2,0.2,0.2,0.2,
0.2,0.2,0.2,0.2,0.2,0.2,0.2,0.2,0.2,0.2,
0.3,0.2,0.3,0.2,0.3,0.2,0.2,0.2,0.2,0.2,
0.2,0.2,0.2,0.2,0.3,0.3,1.5,0.3,1.5,0.3,
0.2,0.2,0.3,0.3,0.2,0.2,0.2,0.2,0.2,0.2,
0.2,0.2,0.2,0.2,0.2,0.2,0.2,0.2,0.2,0.8,
0.2,0.2,0.2,0.2,0.2,0.2,0.2,0.2,0.2,0.2,
0.2,0.2,0.2,0.3,0.2,0.2,0.3,0.2,0.2,0.3,
0.2,0.3,0.2,0.2,0.2,0.2,0.3,0.3,0.3,1.5,
1.5,0.2,0.2,0.2,0.3,0.3,0.2,0.2,0.2,0.2,
0.2,0.2,0.2,0.2,0.2,0.2,0.2,0.2,0.2,0.2,
0.2,0.2,0.6,0.2,0.2,0.2,0.2,0.3,0.3,0.3,
0.3,0.2,0.2,0.3,0.4,0.2,0.2,0.2,0.2,0.2,
0.8,0.2,0.2,0.3,0.2,0.2,0.2,0.3,0.2,0.2,
0.2,0.2,0.8,0.2,0.2,0.2,0.2,0.2,0.3,0.2,
0.2,0.2,1.5,0.2,0.2,0.2,0.2,0.2];
const t1_0ng = [0,0,0,0,0,0,0,0,0,0,
0,0,0,0,0,0,0,0,0,0,
0,0,0,0,0,0,0,0,0,0,
0,0,0,0,0,0,0,0,0,0,
0,0,0,0,0,0,0,0,0,0,
0,0,0,0,0,0,0.3,0,0.3,0,
0,0,0,0,0,0,0,0,0,0,
0,0,0,0,0,0,0,0,0,0.1,
0,0,0,0,0,0,0,0,0,0,
0,0,0,0,0,0,0,0,0,0,
0,0,0,0,0,0,0,0,0,0.1,
0.1,0,0,0,0,0,0,0,0,0,
0,0,0,0,0,0,0,0,0,0,
0,0,0.1,0,0,0,0,0,0,0,
0,0,0,0,0,0,0,0,0,0,
0.1,0,0,0,0,0,0,0,0,0,
0,0,0,0,0,0,0,0,0,0,
0,0,0.1,0,0,0,0,0];
const t3_0ng = [0.2,0.3,0,0,0,0,0,0,0,0.1,
0,0,0,0,0,0,0,0,0,0,
0,0,0,0,0,0,0,0,0,0,
0,0,0,0,0,0,0,0,0,0,
0.2,0,0.2,0,0.2,0,0,0,0,0,
0,0,0,0,0.2,0,0.5,0,0.5,0,
0,0,0.1,0.1,0,0,0,0,0,0,
0,0,0,0,0,0,0,0,0,0.3,
0,0,0,0,0,0,0,0,0,0,
0,0,0,0,0,0,0,0,0,0.1,
0,0.1,0,0,0,0,0.2,0.2,0.1,0.5,
0.5,0,0,0,0.2,0.2,0,0,0,0,
0,0,0,0,0,0,0,0,0,0,
0,0,0.3,0,0,0,0,0.2,0.2,0.2,
0.2,0,0,0.2,0.2,0,0,0,0,0,
0.3,0,0,0,0,0,0,0.1,0,0,
0,0,0.3,0,0,0,0,0,0.2,0,
0,0,0.3,0,0,0,0,0];

// ---- assemble ----
const seriesByPanel = {
  "500ng":[gsc_500ng,t1_500ng,t3_500ng], "250ng":[gsc_250ng,t1_250ng,t3_250ng],
  "100ng":[gsc_100ng,t1_100ng,t3_100ng], "50ng":[gsc_50ng,t1_50ng,t3_50ng],
  "25ng":[gsc_25ng,t1_25ng,t3_25ng], "5ng":[gsc_5ng,t1_5ng,t3_5ng],
  "1ng":[gsc_1ng,t1_1ng,t3_1ng], "0ng":[gsc_0ng,t1_0ng,t3_0ng]
};
if (sequences.length !== 178) throw new Error("sequences length " + sequences.length);
Object.entries(seriesByPanel).forEach(([p, arrs]) => arrs.forEach((a, j) => {
  if (a.length !== sequences.length) throw new Error(`bad length ${p} ${labs[j]}: ${a.length}`);
}));
const rows = [];
panels.forEach(p => seriesByPanel[p].forEach((arr, j) => arr.forEach((v, i) =>
  rows.push({panel: p, lab: labs[j], seq: sequences[i], value: v * UNIT}))));

// ---- styles / layout ----
const labColors = ["#771A6B", "#E64A4A", "#FBB21A"];
const FONT = '"Liberation Sans", Arial, sans-serif';
const svg = d3.select("#chart");
svg.append("rect").attr("width",1920).attr("height",2400).attr("fill","#fff");

const panelTop = 73, panelBottom = 2359;
const fx = d3.scaleBand().domain(panels).range([207, 1790]).paddingInner(0.0384);
const bw = fx.bandwidth();
const y = d3.scalePoint().domain(sequences).range([panelTop, panelBottom]).padding(0.6);
const x = d3.scaleLinear().domain([-0.05 * maxExp, 1.05 * maxExp]).range([0, bw]);
const color = d3.scaleOrdinal().domain(labs).range(labColors);

// title
svg.append("text").attr("x",207).attr("y",21).attr("font-size","18.5px").attr("fill","#000")
  .attr("font-family",FONT).text("Comparison of Expression for seqs showing exp in 0ng");
svg.append("text").attr("x",207).attr("y",40.5).attr("font-size","15.3px").attr("fill","#000")
  .attr("font-family",FONT).text("178 sequences; max exp count = " + maxExp);

const drawOrder = ["Rob Lab T1","Rob Lab T3","GSC Control"];

panels.forEach(p => {
  const g = svg.append("g").attr("transform", `translate(${fx(p)},0)`);
  g.append("rect").attr("x",0).attr("y",panelTop).attr("width",bw).attr("height",panelBottom-panelTop).attr("fill","#EBEBEB");
  g.selectAll("line.minor").data(xMinorTicks).join("line").attr("class","minor")
    .attr("x1",d=>x(d)).attr("x2",d=>x(d)).attr("y1",panelTop).attr("y2",panelBottom)
    .attr("stroke","#fff").attr("stroke-width",1);
  g.selectAll("line.hgrid").data(sequences).join("line").attr("class","hgrid")
    .attr("x1",0).attr("x2",bw).attr("y1",d=>y(d)).attr("y2",d=>y(d))
    .attr("stroke","#fff").attr("stroke-width",1.9);
  g.selectAll("line.vgrid").data(xTicks).join("line").attr("class","vgrid")
    .attr("x1",d=>x(d)).attr("x2",d=>x(d)).attr("y1",panelTop).attr("y2",panelBottom)
    .attr("stroke","#fff").attr("stroke-width",1.9);
  // strip
  g.append("rect").attr("x",0).attr("y",50).attr("width",bw).attr("height",23).attr("fill","#D9D9D9");
  g.append("text").attr("x",bw/2).attr("y",61.5).attr("dy","0.35em").attr("text-anchor","middle")
    .attr("font-size","12.3px").attr("fill","#1A1A1A").attr("font-family",FONT).text(p);
  // points
  const pts = rows.filter(r => r.panel === p)
    .sort((a,b) => drawOrder.indexOf(a.lab) - drawOrder.indexOf(b.lab));
  g.selectAll("circle").data(pts).join("circle")
    .attr("cx", d => x(d.value)).attr("cy", d => y(d.seq)).attr("r", 2.1)
    .attr("fill", d => color(d.lab));
  // x axis
  const ax = g.append("g").attr("transform",`translate(0,${panelBottom})`)
    .call(d3.axisBottom(x).tickValues(xTicks).tickSize(4).tickPadding(2).tickFormat(d3.format("d")));
  ax.select(".domain").remove();
  ax.selectAll(".tick line").attr("stroke","#333").attr("stroke-width",1.1);
  ax.selectAll(".tick text").attr("fill","#4D4D4D").attr("font-size","12.3px").attr("font-family",FONT);
});

// y axis
const ay = svg.append("g").attr("transform",`translate(207,0)`)
  .call(d3.axisLeft(y).tickSize(4).tickPadding(2.5));
ay.select(".domain").remove();
ay.selectAll(".tick line").attr("stroke","#333").attr("stroke-width",1.1);
ay.selectAll(".tick text").attr("fill","#4D4D4D").attr("font-size","12.3px").attr("font-family",FONT);

// axis titles
svg.append("text").attr("x",(207+1790)/2).attr("y",2391).attr("text-anchor","middle")
  .attr("font-size","15.3px").attr("fill","#000").attr("font-family",FONT).text("Expression");
svg.append("text").attr("transform",`translate(18,${(panelTop+panelBottom)/2}) rotate(-90)`)
  .attr("text-anchor","middle").attr("font-size","15.3px").attr("fill","#000").attr("font-family",FONT)
  .text("178 Sequences");

// legend
const lg = svg.append("g");
lg.append("text").attr("x",1808).attr("y",1184).attr("font-size","15.3px").attr("fill","#000")
  .attr("font-family",FONT).text("Lab_name");
labs.forEach((l,i) => {
  const yy = 1191 + i*23;
  lg.append("rect").attr("x",1808).attr("y",yy).attr("width",23).attr("height",23).attr("fill","#F2F2F2");
  lg.append("circle").attr("cx",1819.5).attr("cy",yy+11.5).attr("r",2.1).attr("fill",color(l));
  lg.append("text").attr("x",1839).attr("y",yy+11.5).attr("dy","0.35em").attr("font-size","12.3px")
    .attr("fill","#000").attr("font-family",FONT).text(l);
});
</script>
</body></html>
